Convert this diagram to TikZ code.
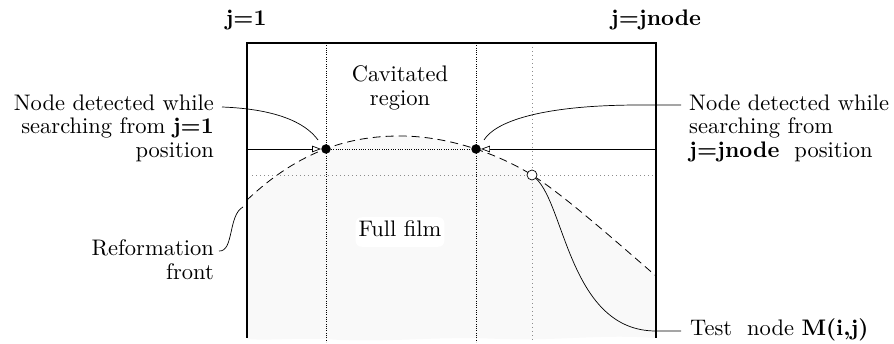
\documentclass[tikz,border=0pt]{standalone}
\usetikzlibrary{arrows.meta}
\newcommand{\Lt}[2]{\scalebox{2.25}{\fontsize{10}{10.45}\selectfont\begin{tabular}{@{}#1@{}}#2\end{tabular}}}
\begin{document}
\begin{tikzpicture}[x=1pt,y=-1pt,
  thickln/.style={line width=1.7pt},
  leader/.style={line width=0.7pt},
  densedot/.style={line width=0.7pt, dash pattern=on 1pt off 1.3pt},
  lightdot/.style={line width=0.6pt, black!45, dash pattern=on 0.8pt off 3.2pt},
  frontline/.style={line width=0.8pt, dash pattern=on 8pt off 5pt},
  lbl/.style={inner sep=0pt},
  fdot/.style={circle, fill=black, minimum size=9.5pt, inner sep=0pt},
  odot/.style={circle, draw, fill=white, line width=0.7pt, minimum size=10pt, inner sep=0pt},
  opentip/.style={-{Triangle[open,length=9pt,width=6.5pt]}}
]
\useasboundingbox (0,0) rectangle (894,344);
% full-film fill
\fill[black!2.5] (247,200) .. controls (300,150) and (350,136) .. (400,136)
  .. controls (450,136) and (500,155) .. (532,175)
  .. controls (564,195) and (620,245) .. (656,276)
  -- (656,338) .. controls (600,334) and (560,341) .. (500,339)
  .. controls (440,336) and (400,342) .. (340,340)
  .. controls (300,337) and (270,341) .. (247,339) -- cycle;
% grid lines
\draw[densedot] (326,43) -- (326,342);
\draw[densedot] (476,43) -- (476,342);
\draw[lightdot] (252,175) -- (653,175);
\draw[lightdot] (532,43) -- (532,342);
% reformation front
\draw[frontline] (247,200) .. controls (300,150) and (350,136) .. (400,136)
  .. controls (450,136) and (500,155) .. (532,175)
  .. controls (564,195) and (620,245) .. (656,276);
% box
\draw[thickln] (247,338) -- (247,43) -- (656,43) -- (656,338);
% nodes
\node[fdot] (d1) at (326,149) {};
\node[fdot] (d2) at (476,149) {};
\node[odot] (t) at (532,175) {};
\coordinate (ls) at (247,149);
\coordinate (rs) at (656,149);
\draw[leader, opentip] (ls) -- (d1);
\draw[leader, opentip] (rs) -- (d2);
\draw[densedot] (d1) -- (d2);
% labels
\node[lbl] (j1) at (246,21) {\Lt{c}{\textbf{j=1}}};
\node[lbl] (jn) at (656,21) {\Lt{c}{\textbf{j=jnode}}};
\node[lbl] (cav) at (400,89) {\Lt{c}{Cavitated\\region}};
\node[lbl, fill=white, rounded corners=6pt, inner sep=3pt] (ff) at (400,232) {\Lt{c}{Full film}};
\node[lbl, anchor=east] (lab1) at (214,129) {\Lt{r}{Node detected while\\searching from \textbf{j=1}\\position}};
\node[lbl, anchor=west] (lab2) at (689,129) {\Lt{l}{Node detected while\\searching from\\\textbf{j=jnode}\ \ position}};
\node[lbl, anchor=east] (lab3) at (214,263) {\Lt{r}{Reformation\\front}};
\node[lbl, anchor=west] (lab4) at (690,331) {\Lt{l}{Test\ \ node \textbf{M(i,j)}}};
% leaders
\coordinate (a1) at (222,107);
\coordinate (b1) at (318,140);
\draw[leader] (a1) .. controls (275,109) and (305,122) .. (b1);
\coordinate (a2) at (681,105);
\coordinate (m2) at (640,105);
\coordinate (b2) at (484,140);
\draw[leader] (a2) -- (m2) .. controls (540,105) and (495,122) .. (b2);
\coordinate (a3) at (219,251);
\coordinate (b3) at (243,207);
\draw[leader] (a3) .. controls (234,252) and (228,215) .. (b3);
\coordinate (a4) at (681,331);
\coordinate (m4) at (656,331);
\draw[leader] (t) .. controls (565,205) and (570,331) .. (m4) -- (a4);
\end{tikzpicture}
\end{document}
